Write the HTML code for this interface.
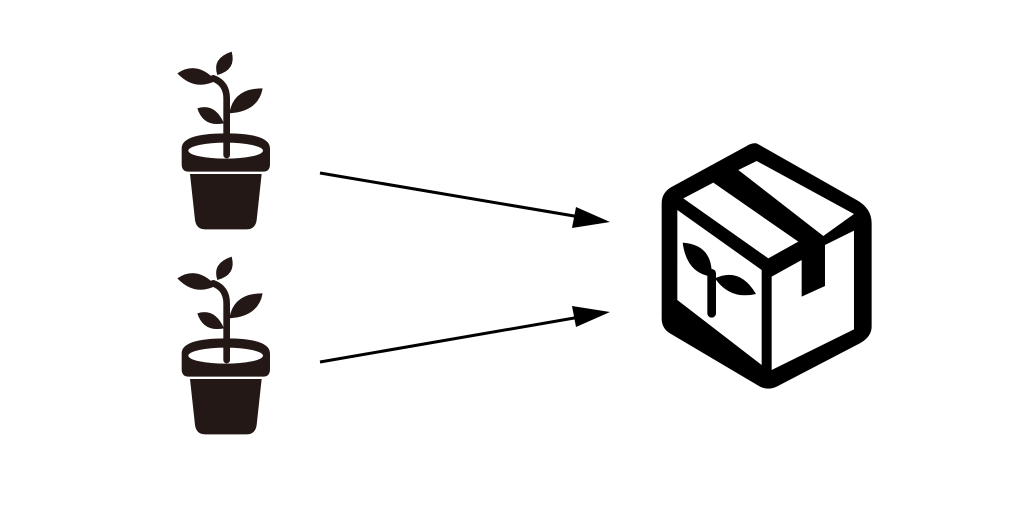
<!DOCTYPE html>
<html><head><meta charset="utf-8"><style>html,body{margin:0;padding:0;background:#fff}svg{display:block}</style></head>
<body>
<svg width="1024" height="505" viewBox="0 0 1024 505" xmlns="http://www.w3.org/2000/svg">
<defs>
<g id="plant" fill="#231815">
  <path d="M200,345 L200,175 Q200,130 160,115" fill="none" stroke="#231815" stroke-width="20" stroke-linecap="round"/>
  <path d="M52,100 Q110,60 168,122 Q105,155 52,100 Z"/>
  <path d="M172,105 Q155,55 215,35 Q230,90 172,105 Z"/>
  <path d="M208,220 Q220,145 308,145 Q295,215 208,220 Z"/>
  <path d="M112,205 Q165,188 192,250 Q130,262 112,205 Z"/>
  <path d="M65,325 Q65,280 198,280 Q330,280 330,325 L330,372 Q330,395 310,395 L85,395 Q65,395 65,372 Z"/>
  <ellipse cx="197" cy="332" rx="112" ry="24" fill="#fff"/>
  <path d="M200,345 L200,300" stroke="#231815" stroke-width="20" stroke-linecap="round"/>
  <path d="M90,402 L305,402 L290,540 Q286,568 260,568 L135,568 Q109,568 105,540 Z"/>
</g>
</defs>
<g transform="translate(160,40) scale(0.3333)"><use href="#plant"/></g>
<g transform="translate(160,245) scale(0.3333)"><use href="#plant"/></g>

<g stroke="#000" stroke-width="3" fill="#000">
  <line x1="320" y1="173" x2="580" y2="217"/>
  <line x1="320" y1="362" x2="580" y2="317"/>
</g>
<polygon points="610,222 572,228 576,207" fill="#000"/>
<polygon points="610,312 576,327 572,306" fill="#000"/>

<g transform="translate(650,130) scale(0.3333)">
  <path d="M320,40 L620,210 Q665,235 665,280 L665,590 Q665,620 630,640 L380,770 Q355,782 330,770 L60,610 Q35,595 35,565 L35,220 Q35,185 70,168 L290,48 Q305,38 320,40 Z" fill="#000"/>
  <polygon points="82,240 335,420 335,705 82,510" fill="#fff"/>
  <polygon points="365,440 455,390 455,500 525,468 525,345 612,302 612,598 365,720" fill="#fff"/>
  <polygon points="100,205 190,158 445,335 355,385" fill="#fff"/>
  <polygon points="265,120 320,93 612,252 520,318" fill="#fff"/>
  <path d="M185,430 L185,550" stroke="#000" stroke-width="26" stroke-linecap="round"/>
  <path d="M98,338 Q190,345 185,440 Q110,430 98,338 Z" fill="#000"/>
  <path d="M195,445 Q270,410 318,492 Q240,510 195,445 Z" fill="#000"/>
</g>
</svg>
</body></html>
